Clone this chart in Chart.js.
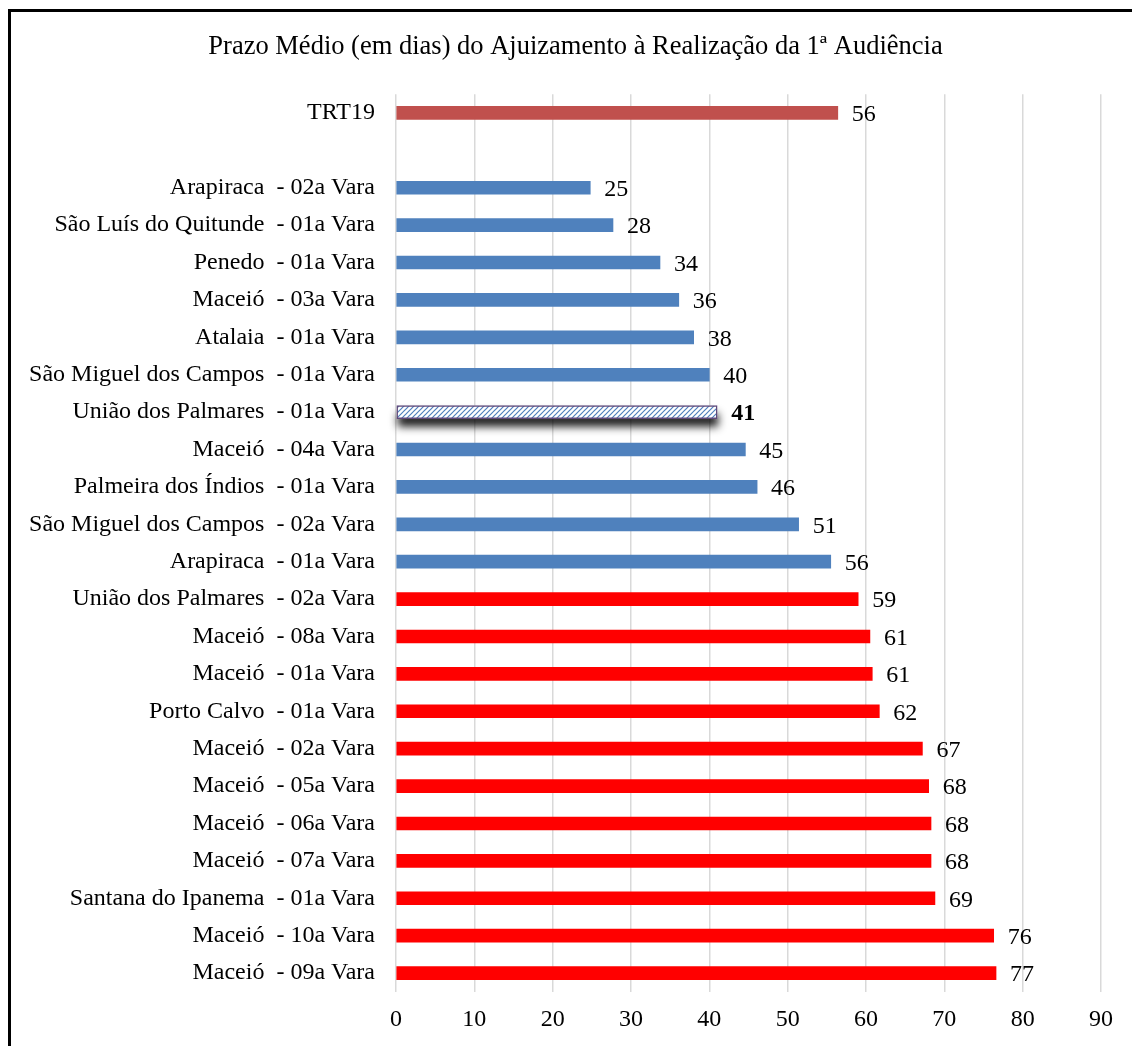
<!DOCTYPE html>
<html>
<head>
<meta charset="utf-8">
<script src="https://cdn.jsdelivr.net/npm/chart.js@4.4.0/dist/chart.umd.min.js"></script>
<style>
  html, body { margin: 0; padding: 0; background: #fff; overflow: hidden; }
  #wrap { position: relative; width: 1132px; height: 1046px; }
  #frame { position: absolute; left: 8px; top: 9px; width: 1200px; height: 1100px;
           border-left: 3px solid #000; border-top: 3px solid #000; pointer-events: none; }
  canvas { position: absolute; left: 0; top: 0; }
</style>
</head>
<body>
<div id="wrap">
  <canvas id="c" width="1132" height="1046"></canvas>
  <div id="frame"></div>
</div>
<script>
const chartTitle = "Prazo Médio (em dias) do Ajuizamento à Realização da 1ª Audiência";
const categories = [
  "TRT19", "",
  "Arapiraca  - 02a Vara",
  "São Luís do Quitunde  - 01a Vara",
  "Penedo  - 01a Vara",
  "Maceió  - 03a Vara",
  "Atalaia  - 01a Vara",
  "São Miguel dos Campos  - 01a Vara",
  "União dos Palmares  - 01a Vara",
  "Maceió  - 04a Vara",
  "Palmeira dos Índios  - 01a Vara",
  "São Miguel dos Campos  - 02a Vara",
  "Arapiraca  - 01a Vara",
  "União dos Palmares  - 02a Vara",
  "Maceió  - 08a Vara",
  "Maceió  - 01a Vara",
  "Porto Calvo  - 01a Vara",
  "Maceió  - 02a Vara",
  "Maceió  - 05a Vara",
  "Maceió  - 06a Vara",
  "Maceió  - 07a Vara",
  "Santana do Ipanema  - 01a Vara",
  "Maceió  - 10a Vara",
  "Maceió  - 09a Vara"
];
const values = [56.4, null, 24.8, 27.7, 33.7, 36.1, 38.0, 40.0, 41.0, 44.6, 46.1, 51.4, 55.5,
                59.0, 60.5, 60.8, 61.7, 67.2, 68.0, 68.3, 68.3, 68.8, 76.3, 76.6];
const valueLabels = ["56", "", "25", "28", "34", "36", "38", "40", "41", "45", "46", "51", "56",
                     "59", "61", "61", "62", "67", "68", "68", "68", "69", "76", "77"];
const xTicks = [0, 10, 20, 30, 40, 50, 60, 70, 80, 90];
const referenceName = "TRT19";
const highlightName = "União dos Palmares  - 01a Vara";

const FONT = "'Liberation Serif', 'Times New Roman', serif";
const refIdx = categories.indexOf(referenceName);
const hiIdx = categories.indexOf(highlightName);
const refValue = values[refIdx];

// hatch pattern
function makePattern() {
  const s = 5;
  const pc = document.createElement('canvas');
  pc.width = s; pc.height = s;
  const p = pc.getContext('2d');
  p.fillStyle = '#ffffff';
  p.fillRect(0, 0, s, s);
  p.strokeStyle = '#4F81BD';
  p.lineWidth = 1.2;
  p.beginPath();
  p.moveTo(0, s); p.lineTo(s, 0);
  p.moveTo(-1, 1); p.lineTo(1, -1);
  p.moveTo(s - 1, s + 1); p.lineTo(s + 1, s - 1);
  p.stroke();
  return document.getElementById('c').getContext('2d').createPattern(pc, 'repeat');
}
const hatch = makePattern();

const colors = values.map((v, i) => {
  if (i === refIdx) return '#C0504D';
  if (i === hiIdx) return hatch;
  if (v === null) return 'rgba(0,0,0,0)';
  return v > refValue ? '#FF0000' : '#4F81BD';
});
const borderColors = values.map((v, i) => i === hiIdx ? '#5F497A' : 'rgba(0,0,0,0)');
const borderWidths = values.map((v, i) => i === hiIdx ? 1.5 : 0);

// centre the title over the whole frame instead of the padded area
const titleShiftPlugin = {
  id: 'titleShiftPlugin',
  afterLayout(chart) {
    if (chart.titleBlock) chart.titleBlock.left += 50;
  }
};

const shadowPlugin = {
  id: 'shadowPlugin',
  beforeDatasetsDraw(chart) {
    const meta = chart.getDatasetMeta(0);
    const el = meta.data[hiIdx];
    if (!el) return;
    const { x, y, base, height } = el.getProps(['x', 'y', 'base', 'height'], true);
    const ctx = chart.ctx;
    ctx.save();
    ctx.shadowColor = 'rgba(0,0,0,0.9)';
    ctx.shadowBlur = 8;
    ctx.shadowOffsetX = 1;
    ctx.shadowOffsetY = 8;
    ctx.fillStyle = '#ffffff';
    ctx.fillRect(base, y - height / 2, x - base, height);
    ctx.restore();
  }
};

const valueLabelPlugin = {
  id: 'valueLabelPlugin',
  afterDatasetsDraw(chart) {
    const ctx = chart.ctx;
    const meta = chart.getDatasetMeta(0);
    ctx.save();
    ctx.fillStyle = '#000';
    ctx.textAlign = 'left';
    ctx.textBaseline = 'middle';
    meta.data.forEach((el, i) => {
      if (values[i] === null) return;
      ctx.font = (i === hiIdx ? 'bold ' : '') + '24px ' + FONT;
      ctx.fillText(valueLabels[i], el.x + 14, el.y + 2);
    });
    ctx.restore();
  }
};

new Chart(document.getElementById('c'), {
  type: 'bar',
  data: {
    labels: categories,
    datasets: [{
      data: values,
      backgroundColor: colors,
      borderColor: borderColors,
      borderWidth: borderWidths,
      borderSkipped: false,
      barThickness: 13
    }]
  },
  options: {
    indexAxis: 'y',
    responsive: false,
    animation: false,
    devicePixelRatio: 1,
    layout: { padding: { left: 0, right: 31, top: 0, bottom: 0 } },
    plugins: {
      legend: { display: false },
      tooltip: { enabled: false },
      title: {
        display: true,
        text: chartTitle,
        color: '#000',
        font: { family: FONT, size: 26.5, weight: 'normal', lineHeight: 1.2 },
        padding: { top: 31.6, bottom: 30.85 }
      }
    },
    scales: {
      x: {
        type: 'linear',
        min: 0, max: 90,
        afterBuildTicks(scale) { scale.ticks = xTicks.map(v => ({ value: v })); },
        afterFit(scale) { scale.height = 1046 - 991.75; },
        ticks: { color: '#000', font: { family: FONT, size: 24 }, padding: 13.85,
                 callback: (v) => String(v) },
        grid: { color: '#d9d9d9', lineWidth: 1.5, drawTicks: false },
        border: { display: false }
      },
      y: {
        afterFit(scale) { scale.width = 396; },
        ticks: { color: '#000', font: { family: FONT, size: 24 }, padding: 21, autoSkip: false },
        grid: { display: false, drawTicks: false },
        border: { display: false }
      }
    }
  },
  plugins: [titleShiftPlugin, shadowPlugin, valueLabelPlugin]
});
</script>
</body>
</html>
